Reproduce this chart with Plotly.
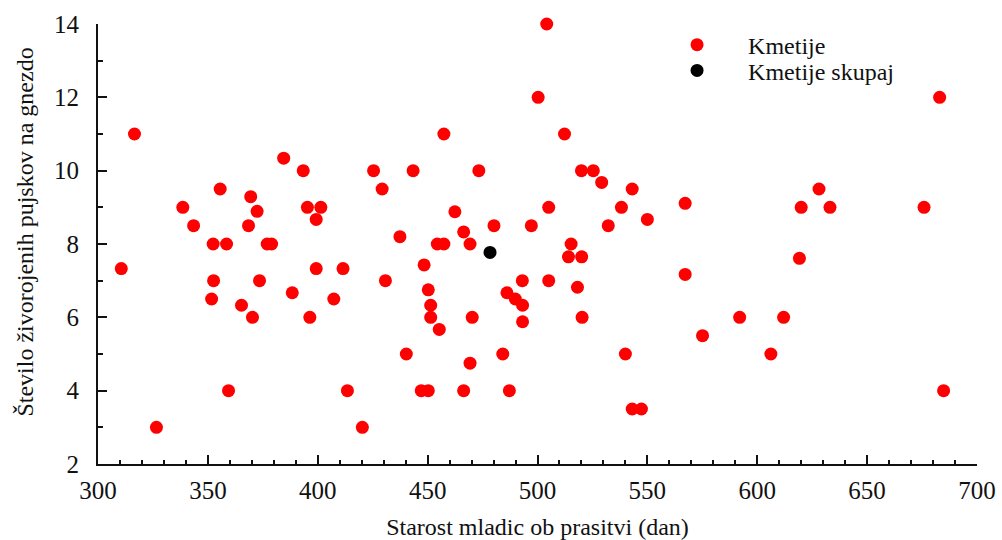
import plotly.graph_objects as go

# Kmetije (individual sows): age of gilt at farrowing (days) vs. live-born piglets per litter
age_days = [310.6, 316.6, 326.6, 338.6, 343.5, 351.7, 352.6, 352.4, 355.6, 358.5,
            359.4, 365.3, 368.5, 369.5, 370.3, 372.4, 373.5, 377.0, 379.0, 384.5,
            388.4, 393.4, 395.3, 396.4, 399.3, 399.3, 401.4, 407.3, 411.5, 413.5,
            420.3, 425.4, 429.3, 430.8, 437.4, 440.3, 443.4, 447.1, 448.4, 450.3,
            450.3, 451.4, 451.4, 454.4, 455.3, 457.4, 457.4, 462.4, 466.4, 466.4,
            469.3, 469.3, 470.3, 473.3, 480.2, 484.2, 486.1, 487.2, 489.9, 493.2,
            493.1, 493.2, 497.2, 500.3, 504.2, 505.1, 505.1, 512.3, 514.1, 515.3,
            518.2, 520.0, 520.1, 520.3, 525.4, 529.2, 532.2, 538.2, 540.0, 543.1,
            543.1, 547.3, 550.0, 567.2, 567.2, 575.1, 592.0, 606.2, 612.0, 619.2,
            620.0, 628.1, 633.1, 675.9, 683.0, 684.8]
piglets = [7.33, 11.0, 3.0, 9.0, 8.5, 6.5, 7.0, 8.0, 9.5, 8.0,
           4.0, 6.33, 8.5, 9.29, 6.0, 8.89, 7.0, 8.0, 8.0, 10.34,
           6.67, 10.0, 9.0, 6.0, 8.67, 7.33, 9.0, 6.5, 7.33, 4.0,
           3.0, 10.0, 9.5, 7.0, 8.2, 5.0, 10.0, 4.0, 7.43, 6.75,
           4.0, 6.33, 6.0, 8.0, 5.67, 8.0, 11.0, 8.88, 8.33, 4.0,
           8.0, 4.75, 6.0, 10.0, 8.5, 5.0, 6.67, 4.0, 6.5, 6.33,
           7.0, 5.88, 8.5, 12.0, 14.0, 7.0, 9.0, 11.0, 7.65, 8.0,
           6.82, 10.0, 7.65, 6.0, 10.0, 9.68, 8.5, 9.0, 5.0, 9.5,
           3.5, 3.5, 8.67, 9.11, 7.17, 5.5, 6.0, 5.0, 6.0, 7.61,
           9.0, 9.5, 9.0, 9.0, 12.0, 4.0]

# Kmetije skupaj (overall mean)
mean_age = [478.4]
mean_piglets = [7.77]

series_names = ["Kmetije", "Kmetije skupaj"]
x_title = "Starost mladic ob prasitvi (dan)"
y_title = "Število živorojenih pujskov na gnezdo"

FONT = "Liberation Serif"
INK = "#111111"

fig = go.Figure()
fig.add_trace(go.Scatter(x=age_days, y=piglets, mode="markers", name=series_names[0],
                         marker=dict(color="#ff0000", size=13, line=dict(width=0)),
                         cliponaxis=False, legend="legend"))
fig.add_trace(go.Scatter(x=mean_age, y=mean_piglets, mode="markers", name=series_names[1],
                         marker=dict(color="#000000", size=13, line=dict(width=0)),
                         cliponaxis=False, legend="legend2"))

axis_common = dict(showline=True, linecolor=INK, linewidth=2, showgrid=False,
                   zeroline=False, ticks="inside", tickcolor=INK, tickwidth=1.5,
                   ticklen=9, tickfont=dict(family=FONT, size=25, color=INK),
                   mirror=False, automargin=False)

fig.update_xaxes(range=[300, 700], dtick=50, tick0=300,
                 minor=dict(dtick=10, ticks="inside", ticklen=4, tickcolor=INK, tickwidth=1.5),
                 ticklabelstandoff=3,
                 title=dict(text=x_title, font=dict(family=FONT, size=24, color=INK), standoff=16),
                 **axis_common)
fig.update_yaxes(range=[2, 14], dtick=2, tick0=2,
                 minor=dict(dtick=1, ticks="inside", ticklen=5, tickcolor=INK, tickwidth=1.5),
                 ticklabelstandoff=12,
                 **axis_common)

# y-axis title (placed slightly above centre, as in the original)
fig.add_annotation(text=y_title, xref="paper", yref="paper", x=-0.0825, y=0.527,
                   xanchor="center", yanchor="middle", textangle=-90, showarrow=False,
                   font=dict(family=FONT, size=24, color=INK))

legend_common = dict(xanchor="left", yanchor="middle",
                     font=dict(family=FONT, size=24, color=INK),
                     itemwidth=92, bgcolor="rgba(0,0,0,0)", borderwidth=0)

fig.update_layout(
    width=1002, height=540,
    margin=dict(l=98, r=25, t=24, b=76),
    plot_bgcolor="white", paper_bgcolor="white",
    font=dict(family=FONT, color=INK),
    showlegend=True,
    legend=dict(x=0.6235, y=0.952, **legend_common),
    legend2=dict(x=0.6235, y=0.8935, **legend_common),
)

fig.write_html("out.html")
